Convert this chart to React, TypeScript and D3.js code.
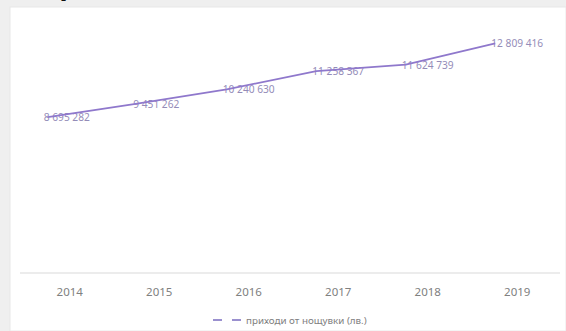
import React from "react";
import * as d3 from "d3";

const years: string[] = ["2014", "2015", "2016", "2017", "2018", "2019"];
const revenue: number[] = [8695282, 9451262, 10240630, 11258367, 11624739, 12809416];
const valueLabels: string[] = ["8 695 282", "9 451 262", "10 240 630", "11 258 367", "11 624 739", "12 809 416"];
const seriesName = "приходи от нощувки (лв.)";
const yMax = 14000000;

const W = 566;
const H = 331;

export default function App() {
  const x = d3.scaleBand<string>().domain(years).range([25, 562]).padding(0);
  const y = d3.scaleLinear().domain([0, yMax]).range([273, 22]);
  const px = (d: string) => (x(d) as number) + x.bandwidth() / 2 - 22;
  const pts: [number, number][] = years.map((yr, i) => [px(yr), y(revenue[i])]);
  const line = d3.line<[number, number]>().x((d) => d[0]).y((d) => d[1]);

  return (
    <svg
      width={W}
      height={H}
      style={{ position: "absolute", left: 0, top: 0, display: "block" }}
      xmlns="http://www.w3.org/2000/svg"
    >
      <rect x={0} y={0} width={W} height={H} fill="#efefef" />
      <rect x={10} y={7} width={W - 10} height={H - 7} fill="#ffffff" stroke="#e8e8e8" strokeWidth={1} />
      <text x={61} y={-3} fontFamily="DejaVu Serif" fontSize={16} fill="#111">р</text>

      <line x1={20} x2={560} y1={y(0)} y2={y(0)} stroke="#d9d9d9" strokeWidth={1} />

      {years.map((yr) => (
        <text
          key={yr}
          x={(x(yr) as number) + x.bandwidth() / 2}
          y={296}
          textAnchor="middle"
          fontFamily="Noto Sans"
          fontSize={11.5}
          fill="#808080"
        >
          {yr}
        </text>
      ))}

      {years.map((yr, i) => (
        <text
          key={"l" + yr}
          x={px(yr) - 4}
          y={y(revenue[i])}
          dominantBaseline="central"
          fontFamily="Noto Sans"
          fontSize={10.2}
          fill="#948cb8"
        >
          {valueLabels[i]}
        </text>
      ))}

      <path d={line(pts) || ""} fill="none" stroke="#8f78cc" strokeWidth={1.7} strokeLinejoin="round" />

      <line x1={213} x2={243} y1={320} y2={320} stroke="#9a90cf" strokeWidth={1.8} strokeDasharray="9,10" />
      <text x={246} y={320} dominantBaseline="central" fontFamily="Noto Sans" fontSize={9.8} fill="#808080">
        {seriesName}
      </text>
    </svg>
  );
}
